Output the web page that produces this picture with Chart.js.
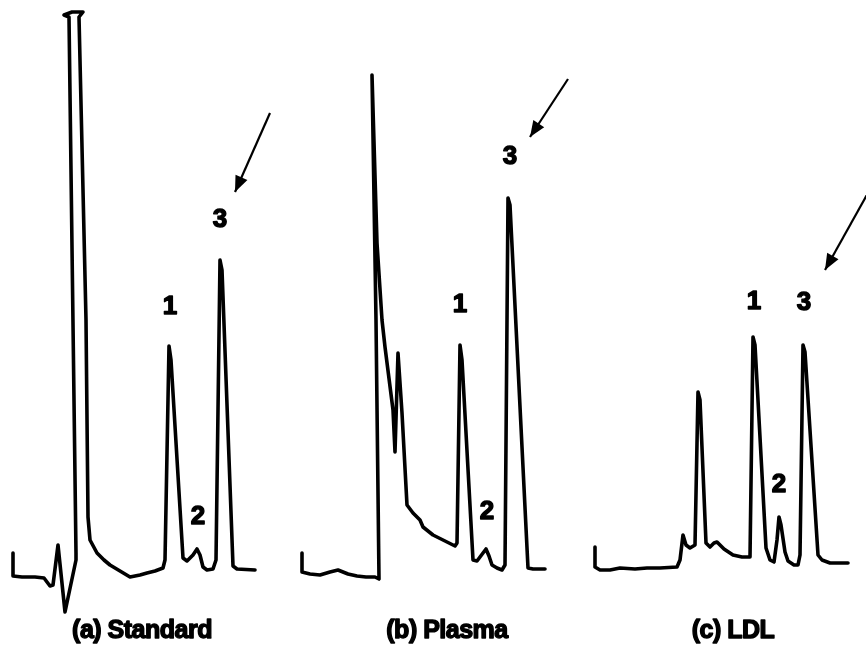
<!DOCTYPE html>
<html>
<head>
<meta charset="utf-8">
<script src="https://cdn.jsdelivr.net/npm/chart.js@4.4.1/dist/chart.umd.min.js"></script>
<style>
  html, body { margin: 0; padding: 0; background: #fff; }
  #chromChart { display: block; }
</style>
</head>
<body>
<canvas id="chromChart" width="866" height="649"></canvas>
<script>
// retention (x) / detector response (y)
const standardTrace = [
  [13, 96], [13, 73], [22, 72], [35, 72], [44, 71], [50, 63], [53, 64], [58, 104],
  [65, 37], [76, 89], [76, 96], [69, 632], [64, 634], [72, 637], [83, 637], [79, 632],
  [86, 329], [88, 132], [90, 109], [97, 96], [104, 89], [110, 84], [120, 78], [130, 72],
  [140, 74], [147, 76], [155, 78], [163, 81], [165, 89], [169, 303], [171, 289], [183, 91],
  [187, 88], [193, 94], [197, 100], [200, 94], [203, 82], [207, 79], [213, 80], [216, 89],
  [220, 389], [222, 379], [233, 83], [237, 80], [255, 79],
];

const plasmaTrace = [
  [302, 96], [302, 77], [310, 75], [320, 74], [330, 77], [338, 79], [348, 75], [357, 73],
  [366, 72], [375, 72], [379, 70], [376, 329], [372, 574], [377, 406], [382, 329], [385, 302],
  [393, 239], [395, 197], [398, 296], [402, 236], [407, 144], [413, 136], [420, 129], [423, 122],
  [433, 114], [447, 107], [455, 103], [457, 106], [460, 304], [462, 289], [473, 89], [477, 88],
  [483, 96], [486, 100], [489, 93], [492, 84], [497, 81], [502, 79], [505, 84], [508, 451],
  [510, 444], [528, 81], [533, 80], [545, 80],
];

const ldlTrace = [
  [595, 102], [595, 82], [600, 79], [610, 79], [620, 81], [635, 80], [647, 81], [660, 81],
  [677, 82], [680, 89], [683, 114], [686, 104], [690, 101], [695, 104], [698, 257], [700, 249],
  [706, 106], [710, 102], [714, 106], [717, 107], [720, 104], [724, 100], [733, 94], [742, 92],
  [750, 92], [753, 312], [755, 304], [766, 101], [770, 89], [774, 87], [777, 109], [779, 132],
  [781, 124], [785, 97], [788, 88], [794, 84], [798, 84], [800, 94], [803, 304], [805, 297],
  [818, 94], [822, 89], [830, 86], [848, 86],
];

const peakLabels = [
  { x: 170, y: 342, text: '1' }, { x: 198, y: 132, text: '2' }, { x: 220, y: 429, text: '3' },
  { x: 460, y: 344, text: '1' }, { x: 487, y: 137, text: '2' }, { x: 510, y: 492, text: '3' },
  { x: 754, y: 347, text: '1' }, { x: 779, y: 164, text: '2' }, { x: 804, y: 346, text: '3' },
];

const panelTitles = [
  { x: 142, y: 18, text: '(a) Standard' },
  { x: 447, y: 18, text: '(b) Plasma' },
  { x: 733, y: 18, text: '(c) LDL' },
];

// arrows pointing at peak 3: [start, tip]
const arrows = [
  [[270, 536], [235, 457]],
  [[568, 570], [530, 512]],
  [[868, 456], [825, 379]],
];

const toPoints = (arr) => arr.map(([x, y]) => ({ x, y }));

const traceDataset = (arr) => ({
  data: toPoints(arr),
  showLine: true,
  borderColor: '#000',
  borderWidth: 3.6,
  borderJoinStyle: 'round',
  borderCapStyle: 'round',
  pointRadius: 0,
  tension: 0,
  fill: false,
});

const arrowDatasets = arrows.map(([from, to]) => ({
  data: toPoints([from, to]),
  showLine: true,
  borderColor: '#000',
  borderWidth: 2.2,
  pointRadius: 0,
  tension: 0,
  fill: false,
}));

const annotatePlugin = {
  id: 'annotate',
  afterDatasetsDraw(chart) {
    const { ctx, scales: { x, y } } = chart;
    ctx.save();

    // arrow heads
    ctx.fillStyle = '#000';
    arrows.forEach(([from, to]) => {
      const x0 = x.getPixelForValue(from[0]);
      const y0 = y.getPixelForValue(from[1]);
      const x1 = x.getPixelForValue(to[0]);
      const y1 = y.getPixelForValue(to[1]);
      const ang = Math.atan2(y1 - y0, x1 - x0);
      const len = 16;
      const half = 6.5;
      const bx = x1 - Math.cos(ang) * len;
      const by = y1 - Math.sin(ang) * len;
      ctx.beginPath();
      ctx.moveTo(x1, y1);
      ctx.lineTo(bx + Math.sin(ang) * half, by - Math.cos(ang) * half);
      ctx.lineTo(bx - Math.sin(ang) * half, by + Math.cos(ang) * half);
      ctx.closePath();
      ctx.fill();
    });

    ctx.textAlign = 'center';
    ctx.textBaseline = 'middle';
    ctx.strokeStyle = '#000';
    ctx.lineJoin = 'round';

    ctx.font = 'bold 26px "Liberation Sans", Arial, sans-serif';
    ctx.lineWidth = 1.4;
    peakLabels.forEach(lbl => {
      const px = x.getPixelForValue(lbl.x);
      const py = y.getPixelForValue(lbl.y);
      ctx.fillText(lbl.text, px, py);
      ctx.strokeText(lbl.text, px, py);
    });

    ctx.font = 'bold 25px "Liberation Sans", Arial, sans-serif';
    ctx.letterSpacing = '-0.5px';
    ctx.lineWidth = 1.4;
    panelTitles.forEach(t => {
      const px = x.getPixelForValue(t.x);
      const py = y.getPixelForValue(t.y);
      ctx.fillText(t.text, px, py);
      ctx.strokeText(t.text, px, py);
    });

    ctx.restore();
  },
};

new Chart(document.getElementById('chromChart'), {
  type: 'scatter',
  data: {
    datasets: [
      traceDataset(standardTrace),
      traceDataset(plasmaTrace),
      traceDataset(ldlTrace),
      ...arrowDatasets,
    ],
  },
  options: {
    responsive: false,
    animation: false,
    devicePixelRatio: 1,
    layout: { padding: 0 },
    plugins: {
      legend: { display: false },
      tooltip: { enabled: false },
    },
    scales: {
      x: { type: 'linear', min: 0, max: 866, display: false },
      y: { type: 'linear', min: 0, max: 649, display: false },
    },
  },
  plugins: [annotatePlugin],
});
</script>
</body>
</html>
